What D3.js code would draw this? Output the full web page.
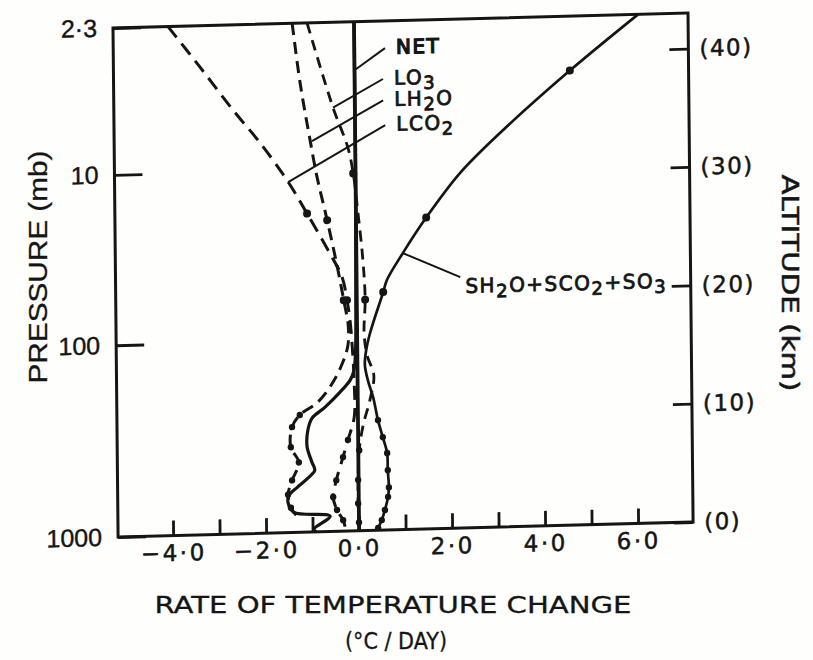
<!DOCTYPE html>
<html><head><meta charset="utf-8">
<script src="https://cdn.jsdelivr.net/npm/d3@7"></script>
<style>body{margin:0;background:#fff} svg{display:block}</style>
</head><body>
<svg id="chart" width="813" height="660"></svg>
<script>
// ---------- DATA (altitude km, heating rate °C/day) ----------
const pressureLabels = ["2·3", "10", "100", "1000"];
const pressureKm     = [43, 30.6, 16.2, 0];
const altitudeTicks  = [40, 30, 20, 10, 0];
const rateTicks      = [-4, -3, -2, -1, 0, 1, 2, 3, 4, 5, 6];
const rateLabelValues = [-4, -2, 0, 2, 4, 6];
const rateLabels     = ["−4·0", "−2·0", "0·0", "2·0", "4·0", "6·0"];

// SH2O + SCO2 + SO3 (solar heating)
const solarKm   = [43.0, 38.4, 33.3, 30.0, 26.3, 23.35, 21.1, 20.1, 16.7, 15.2, 14.0, 12.7, 11.25, 9.3, 7.85, 6.5, 5.05, 3.6, 2.8, 1.7, 0.85, 0.2, 0];
const solarRate = [6.11, 4.63, 3.12, 2.25, 1.51, 1.00, 0.65, 0.57, 0.28, 0.19, 0.16, 0.22, 0.33, 0.43, 0.53, 0.62, 0.63, 0.65, 0.63, 0.56, 0.49, 0.41, 0.38];
const solarDots = [1, 4, 7, 13, 14, 15, 16, 17, 18, 19, 20, 21];

// LCO2
const lco2Km   = [43, 39.5, 35.8, 33.0, 29.8, 26.9, 23.5, 21.45, 19.5, 17.8, 15.7, 12.7, 9.6, 7.7, 6.25, 4.3, 2.9, 1.8, 0.93, 0];
const lco2Rate = [-4.00, -3.32, -2.62, -2.05, -1.48, -1.05, -0.57, -0.31, -0.21, -0.15, -0.11, -0.075, -0.08, -0.22, -0.33, -0.48, -0.55, -0.47, -0.34, -0.28];
const lco2Dots = [5, 8, 13, 14, 15, 16, 17, 18];

// LH2O
const lh2oKm   = [43, 37.9, 33.1, 30.0, 26.3, 22.5, 19.5, 17.4, 15.7, 14.3, 12.6, 10.95, 9.9, 8.9, 7.2, 5.9, 4.4, 3.2, 2.1, 1.45];
const lh2oRate = [-1.33, -1.17, -0.97, -0.83, -0.62, -0.42, -0.28, -0.19, -0.20, -0.31, -0.53, -0.86, -1.25, -1.42, -1.45, -1.28, -1.43, -1.52, -1.46, -1.35];
const lh2oDots = [4, 6, 12, 13, 14, 15, 16, 17, 18];

// LO3
const lo3Km   = [43, 35.8, 32.4, 30.2, 26.8, 22.85, 19.5, 16.7, 14.8, 13.1, 11.0, 8.9, 6.8, 4.3, 2.3, 0.7, 0];
const lo3Rate = [-1.01, -0.47, -0.16, -0.05, 0.045, 0.14, 0.18, 0.15, 0.21, 0.35, 0.26, 0.11, 0.02, -0.01, -0.015, 0.0, -0.01];
const lo3Dots = [3, 6, 12, 13, 14, 15];

// NET
const netKm   = [43, 30, 20, 15, 13.5, 12.74, 11.75, 10.5, 9.6, 8.6, 7.2, 5.9, 5.2, 4.55, 3.8, 3.15, 2.5, 1.7, 1.3, 0.24, 0];
const netRate = [0, 0, -0.02, -0.04, -0.08, -0.16, -0.38, -0.71, -0.99, -1.08, -1.10, -1.00, -0.94, -1.09, -1.32, -1.50, -1.52, -1.40, -0.62, -0.97, -0.92];

// ---------- LAYOUT ----------
const ink = "#151515";
const X0 = 113, X1 = 688, Y0 = 28, Y1 = 537;
const svg = d3.select("#chart");
svg.append("rect").attr("width", 813).attr("height", 660).attr("fill", "#fefefc");

const x = d3.scaleLinear().domain([-5.183, 7.183]).range([X0, X1]);
const y = d3.scaleLinear().domain([0, 43]).range([Y1, Y0]);

// slight skew of the scanned original
const kx = 0.01, ky = -0.026;
const g = svg.append("g")
  .attr("transform", `matrix(1,${ky},${kx},1,${-kx * Y0},${-ky * X0})`);

const lettering = "'DejaVu Sans', sans-serif";
const typeset = "'Liberation Sans', Arial, sans-serif";

// axes
const leftAxis = d3.axisLeft(y).tickValues(pressureKm)
  .tickFormat((d, i) => pressureLabels[i]).tickSizeInner(-28).tickSizeOuter(0).tickPadding(16);
const rightAxis = d3.axisRight(y).tickValues(altitudeTicks)
  .tickFormat(d => `(${d})`).tickSizeInner(-19).tickSizeOuter(0).tickPadding(11);
const bottomAxis = d3.axisBottom(x).tickValues(rateTicks)
  .tickFormat(d => { const i = rateLabelValues.indexOf(d); return i >= 0 ? rateLabels[i] : ""; })
  .tickSizeInner(-15).tickSizeOuter(0).tickPadding(9);

function styleAxis(sel, family, size, spacing, sw) {
  sel.select(".domain").remove();
  sel.selectAll(".tick line").attr("stroke", ink).attr("stroke-width", 2.8);
  sel.selectAll(".tick text").attr("fill", ink).attr("font-family", family)
    .attr("font-size", size).attr("letter-spacing", spacing)
    .attr("stroke", ink).attr("stroke-width", sw);
}
g.append("g").attr("transform", `translate(${X0},0)`).call(leftAxis)
  .call(s => styleAxis(s, typeset, 25, 0, 0.4));
g.append("g").attr("transform", `translate(${X1},0)`).call(rightAxis)
  .call(s => styleAxis(s, lettering, 23, 1.5, 0.5));
g.append("g").attr("transform", `translate(0,${Y1})`).call(bottomAxis)
  .call(s => styleAxis(s, lettering, 23, 2.5, 0.5));

// frame
g.append("rect").attr("x", X0).attr("y", Y0).attr("width", X1 - X0).attr("height", Y1 - Y0)
  .attr("fill", "none").attr("stroke", ink).attr("stroke-width", 3);

// zero line
g.append("line").attr("x1", x(0)).attr("x2", x(0)).attr("y1", y(0)).attr("y2", y(43))
  .attr("stroke", ink).attr("stroke-width", 3.8);

// series
const line = d3.line().x(d => x(d.r)).y(d => y(d.km)).curve(d3.curveCatmullRom.alpha(0.5));
const zip = (km, r) => km.map((k, i) => ({km: k, r: r[i]}));
const series = [
  {pts: zip(lco2Km, lco2Rate), dots: lco2Dots, dash: "14,8", w: 3.0},
  {pts: zip(lh2oKm, lh2oRate), dots: lh2oDots, dash: "12,7", w: 3.0},
  {pts: zip(lo3Km, lo3Rate),   dots: lo3Dots,  dash: "11,7", w: 2.8},
  {pts: zip(netKm, netRate),   dots: [],       dash: null,   w: 3.2},
  {pts: zip(solarKm, solarRate), dots: solarDots, dash: null, w: 2.7}
];
series.forEach(s => {
  g.append("path").attr("d", line(s.pts)).attr("fill", "none").attr("stroke", ink)
    .attr("stroke-width", s.w).attr("stroke-dasharray", s.dash).attr("stroke-linecap", "butt");
  g.selectAll(null).data(s.dots.map(i => s.pts[i])).enter().append("circle")
    .attr("cx", d => x(d.r)).attr("cy", d => y(d.km)).attr("r", d => d.km > 15 ? 4 : 3.2)
    .attr("fill", ink);
});

// labels with leaders
const labels = [
  {parts: [["NET", 0]], at: [0, 38.9], end: [0.66, 40.7], bold: true},
  {parts: [["LO", 0], ["3", 1]], at: [-0.47, 35.8], end: [0.61, 38.1]},
  {parts: [["LH", 0], ["2", 1], ["O", 0]], at: [-0.93, 33.0], end: [0.61, 36.3]},
  {parts: [["LCO", 0], ["2", 1]], at: [-1.45, 29.6], end: [0.65, 34.2]},
  {parts: [["SH", 0], ["2", 1], ["O+SCO", 0], ["2", 1], ["+SO", 0], ["3", 1]], at: [1.0, 23.35], end: [2.23, 21.2], dx: 5, dy: 16}
];
labels.forEach(l => {
  g.append("line").attr("x1", x(l.at[0])).attr("y1", y(l.at[1]))
    .attr("x2", x(l.end[0])).attr("y2", y(l.end[1]))
    .attr("stroke", ink).attr("stroke-width", 2);
  const t = g.append("text").attr("x", x(l.end[0]) + (l.dx ?? 11)).attr("y", y(l.end[1]) + (l.dy ?? 6))
    .attr("font-family", lettering).attr("font-size", 20).attr("fill", ink).attr("letter-spacing", 1.5)
    .attr("stroke", ink).attr("stroke-width", l.bold ? 1.3 : 0.8);
  let off = 0;
  l.parts.forEach(([txt, sub]) => {
    const target = sub ? 5 : 0;
    t.append("tspan").attr("dy", target - off).attr("font-size", sub ? 18 : 20).text(txt);
    off = target;
  });
});

// titles
svg.append("text").attr("transform", "translate(47,267) rotate(-90)").attr("text-anchor", "middle")
  .attr("font-family", typeset).attr("font-size", 25).attr("fill", ink)
  .attr("stroke", ink).attr("stroke-width", 0.3)
  .attr("textLength", 233).attr("lengthAdjust", "spacingAndGlyphs").text("PRESSURE (mb)");
svg.append("text").attr("transform", "translate(782,283) rotate(90)").attr("text-anchor", "middle")
  .attr("font-family", lettering).attr("font-size", 23).attr("fill", ink)
  .attr("stroke", ink).attr("stroke-width", 0.5)
  .attr("textLength", 217).attr("lengthAdjust", "spacingAndGlyphs").text("ALTITUDE (km)");
svg.append("text").attr("x", 393).attr("y", 613).attr("text-anchor", "middle")
  .attr("font-family", lettering).attr("font-size", 23).attr("fill", ink)
  .attr("stroke", ink).attr("stroke-width", 0.3)
  .attr("textLength", 477).attr("lengthAdjust", "spacingAndGlyphs").text("RATE OF TEMPERATURE CHANGE");
svg.append("text").attr("x", 396).attr("y", 649).attr("text-anchor", "middle")
  .attr("font-family", lettering).attr("font-size", 23).attr("fill", ink)
  .attr("stroke", ink).attr("stroke-width", 0.3)
  .attr("textLength", 102).attr("lengthAdjust", "spacingAndGlyphs").text("(°C / DAY)");
</script>
</body></html>
